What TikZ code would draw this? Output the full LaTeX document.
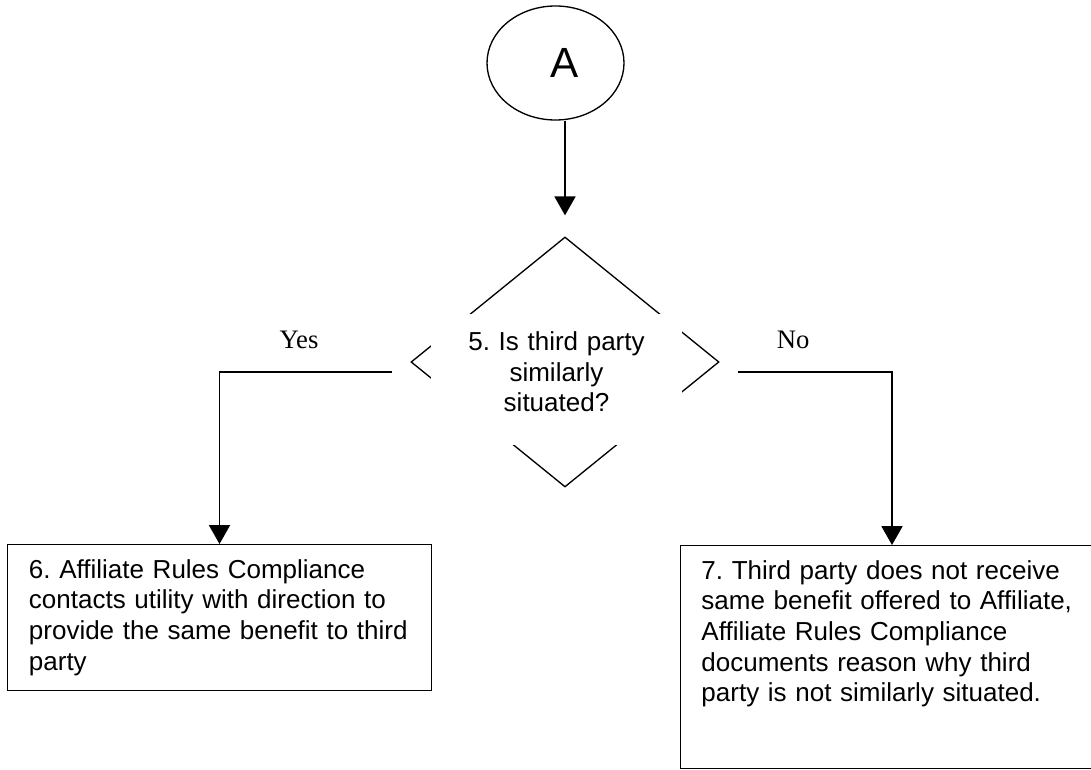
\documentclass[tikz,border=0pt]{standalone}
\usepackage{fontspec}
\setmainfont{Liberation Sans}
\newfontfamily\answerfont{Liberation Serif}
\usepackage{tikz}
\usetikzlibrary{shapes.geometric,calc,positioning}
\usetikzlibrary{arrows.meta}
\tikzset{>={Triangle[width=9.5pt,length=8.5pt]}}
\frenchspacing

\begin{document}
\begin{tikzpicture}[x=0.45pt, y=-0.45pt, line width=0.6pt,
    every node/.style={font=\fontsize{11.7}{13.8}\selectfont},
    connector/.style={draw, ellipse, minimum width=61.65pt, minimum height=51.3pt, inner sep=0pt, font=\fontsize{19}{22}\selectfont},
    decision/.style={draw, diamond, minimum width=138.6pt, minimum height=112.5pt, inner sep=0pt},
    question/.style={fill=white, anchor=north, inner sep=0pt, text width=112.95pt, align=center, text height=16.6pt, text depth=42.35pt},
    stepbox/.style={draw, anchor=north, inner xsep=9.5pt, inner ysep=6.5pt, text width=171.5pt, align=left, text height=8.6pt},
    answer/.style={above=7pt, font=\answerfont\fontsize{12}{13.8}\selectfont},
  ]
  \useasboundingbox (0,0) rectangle (1091,770);
  \clip (0,0) rectangle (1091,770);

  \node[connector] (A) at (555.5,63) {\hspace{8pt}A};
  \node[decision] (Q) at (565,362) {};
  \node[question] (Qtext) at (556.5,313) {5. Is third party\\similarly\\situated?};
  \node[stepbox, text depth=44.1pt] (B6) at (219.5,544) {6. Affiliate Rules Compliance\\contacts utility with direction to\\provide the same benefit to third\\party};
  \node[stepbox, text depth=78.75pt] (B7) at (892,545) {7. Third party does not receive\\same benefit offered to Affiliate,\\Affiliate Rules Compliance\\documents reason why third\\party is not similarly situated.};

  \coordinate (Qin) at ($(Q.north)+(0,-21)$);
  \coordinate (yesfrom) at ($(Q.west)+(-18,10)$);
  \coordinate (nofrom) at ($(Q.east)+(18,10)$);

  \draw[->] (A.south -| Qin) -- (Qin);
  \draw[->] (yesfrom) -| node[answer, pos=0.27] {Yes} (B6.north);
  \draw[->] (nofrom) -| node[answer, pos=0.18] {No} (B7.north);

\end{tikzpicture}
\end{document}
